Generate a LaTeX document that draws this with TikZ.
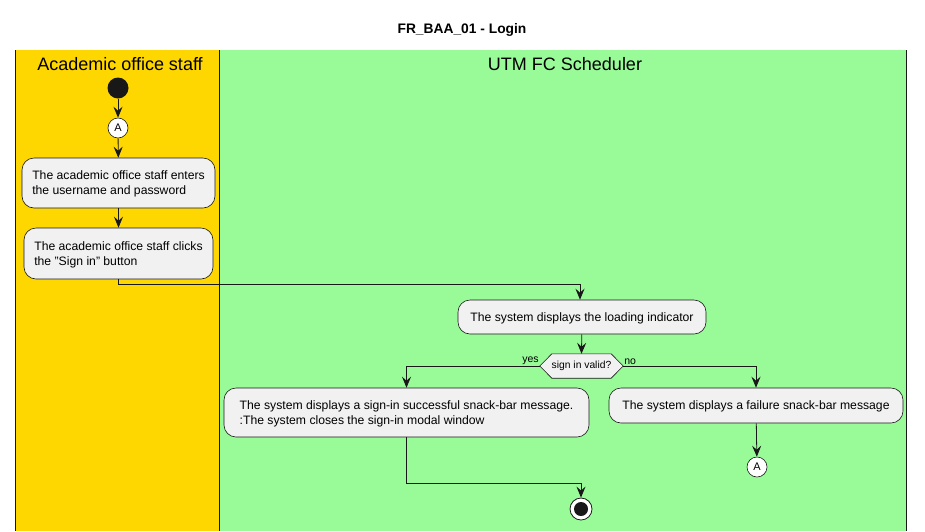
\documentclass[tikz,border=0pt]{standalone}
\usepackage{fontspec}
\setmainfont{Liberation Sans}
\usetikzlibrary{arrows.meta,calc}
\definecolor{laneA}{HTML}{FFD700}
\definecolor{laneB}{HTML}{98FB98}
\definecolor{boxfill}{HTML}{F1F1F1}
\definecolor{ln}{HTML}{181818}
\tikzset{
  actbox/.style={draw=ln, fill=boxfill, rounded corners=12pt, inner xsep=6pt, align=left,
    font=\fontsize{12.2}{15}\selectfont, line width=0.6pt, text depth=-1pt},
  conn/.style={circle, draw=ln, fill=white, minimum size=20pt, inner sep=0pt, font=\fontsize{11}{13}\selectfont, line width=0.6pt},
  arr/.style={draw=ln, line width=0.8pt, -{Stealth[length=11pt,width=9pt,inset=4pt]}},
  lanetitle/.style={font=\fontsize{18}{20}\selectfont},
  elabel/.style={font=\fontsize{10.5}{12}\selectfont, inner sep=1pt},
}
\begin{document}
\begin{tikzpicture}[x=1pt,y=-1pt]
\useasboundingbox (0,0) rectangle (925,531);
% lanes
\fill[laneA] (15,50) rectangle (219,531);
\fill[laneB] (219,50) rectangle (906,531);
\draw[ln, line width=1pt] (15,50) -- (15,531);
\draw[ln, line width=1pt] (219,50) -- (219,531);
\draw[ln, line width=1pt] (906,50) -- (906,531);
\node[font=\bfseries\fontsize{13.8}{16}\selectfont] (title) at (462,30) {FR\_BAA\_01 - Login};
\node[lanetitle] (t1) at (120,64) {Academic office staff};
\node[lanetitle] (t2) at (565,64) {UTM FC Scheduler};
% nodes
\node[circle, fill=ln, minimum size=21pt, inner sep=0pt] (start) at (118,88) {};
\node[conn] (A1) at (118,128) {A};
\node[actbox, minimum width=193pt, minimum height=50pt] (b1) at (118.5,183)
  {The academic office staff enters\\the username and password};
\node[actbox, minimum width=189pt, minimum height=51pt] (b2) at (118.5,253.5)
  {The academic office staff clicks\\the "Sign in" button};
\node[actbox, minimum width=248pt, minimum height=34pt] (b3) at (582,317)
  {The system displays the loading indicator};
\node[minimum width=83pt, minimum height=24pt, inner sep=0pt] (d) at (581.5,366) {};
\draw[ln, fill=boxfill, line width=0.6pt] (d.west) -- ($(d.north west)+(12,0)$) -- ($(d.north east)+(-12,0)$) -- (d.east) -- ($(d.south east)+(-12,0)$) -- ($(d.south west)+(12,0)$) -- cycle;
\node[font=\fontsize{10.3}{12}\selectfont] (dt) at (d) {sign in valid?};
\node[actbox, minimum width=365pt, minimum height=49pt] (b4) at (406.5,412.5)
  {The system displays a sign-in successful snack-bar message.\\:The system closes the sign-in modal window};
\node[actbox, minimum width=294pt, minimum height=35pt] (b5) at (756,405.5)
  {The system displays a failure snack-bar message};
\node[conn] (A2) at (757,467) {A};
\node[circle, draw=ln, fill=white, line width=0.8pt, minimum size=22pt, inner sep=0pt] (end) at (581,509) {};
\fill[ln] (end.center) circle (7pt);
% junction points
\coordinate (j1) at (580,284);
\coordinate (j2) at (581,483);
% connectors
\draw[arr] (start) -- (A1);
\draw[arr] (A1) -- (b1);
\draw[arr] (b1) -- (b2);
\draw[ln, line width=0.8pt] (b2.south) |- (j1);
\draw[arr] (j1) -- (j1 |- b3.north);
\draw[arr] (b3) -- (d.north);
\draw[arr] (d.west) -| (b4.north);
\draw[arr] (d.east) -| (b5.north);
\node[elabel, anchor=south east] at (d.west) {yes};
\node[elabel, anchor=south west] at (d.east) {no};
\draw[arr] (b5) -- (A2);
\draw[ln, line width=0.8pt] (b4.south) |- (j2);
\draw[arr] (j2) -- (end);
\end{tikzpicture}
\end{document}
